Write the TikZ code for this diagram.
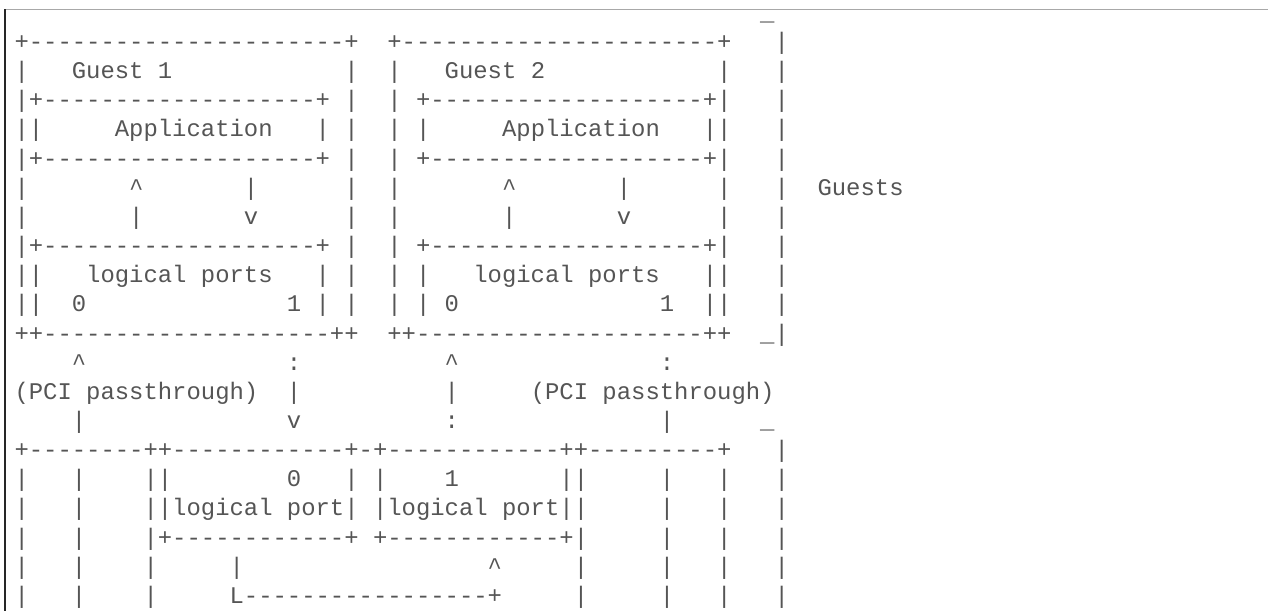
\documentclass[tikz,border=0pt]{standalone}
\usepackage{fontspec}
\setmonofont{Liberation Mono}
\usepackage{tikz}
\definecolor{asciigray}{HTML}{555555}
\definecolor{rulegray}{HTML}{A8A8A8}
% n monospace blanks
\newcommand{\sk}[1]{\hspace*{#1\dimexpr 0.6em\relax}}

\begin{document}
\begin{tikzpicture}[x=1pt,y=-1pt,
  row/.style={anchor=base west,inner sep=0pt,outer sep=0pt,text=asciigray,
    font=\fontsize{23.9}{29.15}\ttfamily\selectfont}]
\useasboundingbox (0,0) rectangle (1268,611);
%page frame
\draw[rulegray,line width=1pt] (5,9) -- (1268,9);
\draw[black!85,line width=1.3pt] (5,9) -- (5,611);
%guest boxes
\node[row] (row0) at (14.5,20.35) {\sk{52}\_};
\node[row] (row1) at (14.5,49.50) {+----------------------+\sk{2}+----------------------+\sk{3}|};
\node[row] (row2) at (14.5,78.65) {|\sk{3}Guest~1\sk{12}|\sk{2}|\sk{3}Guest~2\sk{12}|\sk{3}|};
\node[row] (row3) at (14.5,107.80) {|+-------------------+~|\sk{2}|~+-------------------+|\sk{3}|};
\node[row] (row4) at (14.5,136.95) {||\sk{5}Application\sk{3}|~|\sk{2}|~|\sk{5}Application\sk{3}||\sk{3}|};
\node[row] (row5) at (14.5,166.10) {|+-------------------+~|\sk{2}|~+-------------------+|\sk{3}|};
\node[row] (row6) at (14.5,195.25) {|\sk{7}\textasciicircum\sk{7}|\sk{6}|\sk{2}|\sk{7}\textasciicircum\sk{7}|\sk{6}|\sk{3}|\sk{2}Guests};
\node[row] (row7) at (14.5,224.40) {|\sk{7}|\sk{7}v\sk{6}|\sk{2}|\sk{7}|\sk{7}v\sk{6}|\sk{3}|};
\node[row] (row8) at (14.5,253.55) {|+-------------------+~|\sk{2}|~+-------------------+|\sk{3}|};
\node[row] (row9) at (14.5,282.70) {||\sk{3}logical~ports\sk{3}|~|\sk{2}|~|\sk{3}logical~ports\sk{3}||\sk{3}|};
\node[row] (row10) at (14.5,311.85) {||\sk{2}0\sk{14}1~|~|\sk{2}|~|~0\sk{14}1\sk{2}||\sk{3}|};
\node[row] (row11) at (14.5,341.00) {++--------------------++\sk{2}++--------------------++\sk{2}\_|};
%passthrough arrows
\node[row] (row12) at (14.5,370.15) {\sk{4}\textasciicircum\sk{14}:\sk{10}\textasciicircum\sk{14}:};
\node[row] (row13) at (14.5,399.30) {(PCI~passthrough)\sk{2}|\sk{10}|\sk{5}(PCI~passthrough)};
\node[row] (row14) at (14.5,428.45) {\sk{4}|\sk{14}v\sk{10}:\sk{14}|\sk{6}\_};
%host side
\node[row] (row15) at (14.5,457.60) {+--------++------------+-+------------++---------+\sk{3}|};
\node[row] (row16) at (14.5,486.75) {|\sk{3}|\sk{4}||\sk{8}0\sk{3}|~|\sk{4}1\sk{7}||\sk{5}|\sk{3}|\sk{3}|};
\node[row] (row17) at (14.5,515.90) {|\sk{3}|\sk{4}||logical~port|~|logical~port||\sk{5}|\sk{3}|\sk{3}|};
\node[row] (row18) at (14.5,545.05) {|\sk{3}|\sk{4}|+------------+~+------------+|\sk{5}|\sk{3}|\sk{3}|};
\node[row] (row19) at (14.5,574.20) {|\sk{3}|\sk{4}|\sk{5}|\sk{17}\textasciicircum\sk{5}|\sk{5}|\sk{3}|\sk{3}|};
\node[row] (row20) at (14.5,603.35) {|\sk{3}|\sk{4}|\sk{5}L-----------------+\sk{5}|\sk{5}|\sk{3}|\sk{3}|};
\end{tikzpicture}
\end{document}
